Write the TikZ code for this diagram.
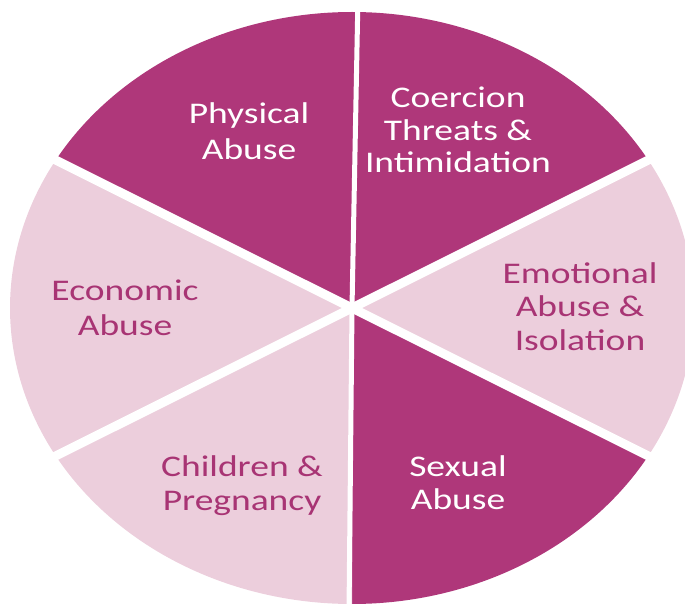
\documentclass[tikz,border=0pt]{standalone}
\usepackage{fontspec}
\setmainfont{Carlito}[FakeStretch=1.25]
\definecolor{dk}{RGB}{175,55,122}
\definecolor{lt}{RGB}{236,206,220}
\definecolor{lttext}{RGB}{168,52,116}
\begin{document}
\begin{tikzpicture}[x=1pt,y=1pt,
  darksec/.style={fill=dk},
  lightsec/.style={fill=lt},
  gapline/.style={draw=white, line width=#1},
  gapline/.default=9,
  lsz/.style={font=\fontsize{30}{#1}\selectfont},
  lsz/.default=34,
  darklabel/.style={text=white, align=center, anchor=base, inner sep=0pt},
  lightlabel/.style={text=lttext, align=center, anchor=base, inner sep=0pt}
]
\useasboundingbox (0,0) rectangle (685,-604);
\coordinate (C) at (352,-308);
% sectors
\fill[darksec]  (C) -- ++(90:342 and 296)  arc[start angle=90,  end angle=150, x radius=342, y radius=296] -- cycle;
\fill[darksec]  (C) -- ++(30:342 and 296)  arc[start angle=30,  end angle=90,  x radius=342, y radius=296] -- cycle;
\fill[lightsec] (C) -- ++(-30:342 and 296) arc[start angle=-30, end angle=30,  x radius=342, y radius=296] -- cycle;
\fill[darksec]  (C) -- ++(270:342 and 296) arc[start angle=270, end angle=330, x radius=342, y radius=296] -- cycle;
\fill[lightsec] (C) -- ++(210:342 and 296) arc[start angle=210, end angle=270, x radius=342, y radius=296] -- cycle;
\fill[lightsec] (C) -- ++(150:342 and 296) arc[start angle=150, end angle=210, x radius=342, y radius=296] -- cycle;
% divider ends
\path (C) ++(30:370 and 320)  coordinate (d30);
\path (C) ++(150:370 and 320) coordinate (d150);
\path (C) ++(210:370 and 320) coordinate (d210);
\path (C) ++(330:370 and 320) coordinate (d330);
\coordinate (dtop) at (358,5);
\coordinate (dbot) at (349,-612);
\draw[gapline] (C) -- (d30);
\draw[gapline] (C) -- (d150);
\draw[gapline] (C) -- (d210);
\draw[gapline] (C) -- (d330);
\draw[gapline=5] (C) -- (dtop);
\draw[gapline=5] (C) -- (dbot);
% labels (anchor=base is the baseline of the last line)
\node[darklabel, lsz=36]    (phys)  at (249,-160) {Physical\\Abuse};
\node[darklabel, lsz=32.5]  (coer)  at (458,-173) {Coercion\\Threats \&\\Intimidation};
\node[lightlabel, lsz=33.5] (emo)   at (580,-350) {Emotional\\Abuse \&\\Isolation};
\node[lightlabel, lsz=35]   (econ)  at (125,-335) {Economic\\Abuse};
\node[lightlabel, lsz=34]   (child) at (242,-510) {Children \&\\Pregnancy};
\node[darklabel, lsz=33]    (sex)   at (458,-509) {Sexual\\Abuse};
\end{tikzpicture}
\end{document}
